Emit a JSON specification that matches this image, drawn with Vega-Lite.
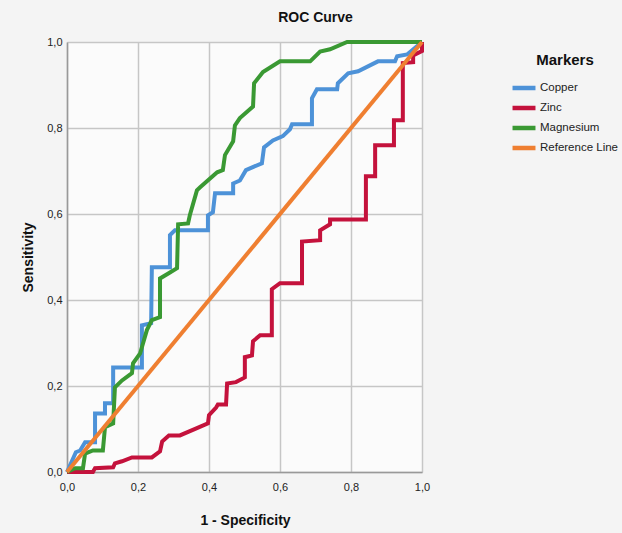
{
  "$schema": "https://vega.github.io/schema/vega-lite/v6.json",
  "width": 355,
  "height": 430,
  "autosize": "none",
  "padding": {"left": 67, "top": 42, "right": 200, "bottom": 61},
  "background": "#f4f4f4",
  "config": {
    "font": "Liberation Sans",
    "view": {"fill": "#fbfbfb", "stroke": null}
  },
  "title": {
    "text": "ROC Curve",
    "fontSize": 14,
    "fontWeight": "bold",
    "color": "#111",
    "anchor": "middle",
    "dx": 71,
    "offset": 9
  },
  "data": {
    "values": [
      {"m": "Copper", "i": 0, "x": 0, "y": 0},
      {"m": "Copper", "i": 1, "x": 0.025, "y": 0.046},
      {"m": "Copper", "i": 2, "x": 0.037, "y": 0.05},
      {"m": "Copper", "i": 3, "x": 0.051, "y": 0.069},
      {"m": "Copper", "i": 4, "x": 0.079, "y": 0.069},
      {"m": "Copper", "i": 5, "x": 0.079, "y": 0.136},
      {"m": "Copper", "i": 6, "x": 0.107, "y": 0.136},
      {"m": "Copper", "i": 7, "x": 0.107, "y": 0.16},
      {"m": "Copper", "i": 8, "x": 0.13, "y": 0.16},
      {"m": "Copper", "i": 9, "x": 0.13, "y": 0.243},
      {"m": "Copper", "i": 10, "x": 0.211, "y": 0.243},
      {"m": "Copper", "i": 11, "x": 0.211, "y": 0.341},
      {"m": "Copper", "i": 12, "x": 0.237, "y": 0.346},
      {"m": "Copper", "i": 13, "x": 0.239, "y": 0.476},
      {"m": "Copper", "i": 14, "x": 0.29, "y": 0.476},
      {"m": "Copper", "i": 15, "x": 0.29, "y": 0.551},
      {"m": "Copper", "i": 16, "x": 0.304, "y": 0.562},
      {"m": "Copper", "i": 17, "x": 0.397, "y": 0.562},
      {"m": "Copper", "i": 18, "x": 0.397, "y": 0.597},
      {"m": "Copper", "i": 19, "x": 0.411, "y": 0.604},
      {"m": "Copper", "i": 20, "x": 0.417, "y": 0.648},
      {"m": "Copper", "i": 21, "x": 0.468, "y": 0.648},
      {"m": "Copper", "i": 22, "x": 0.468, "y": 0.671},
      {"m": "Copper", "i": 23, "x": 0.487, "y": 0.678},
      {"m": "Copper", "i": 24, "x": 0.504, "y": 0.702},
      {"m": "Copper", "i": 25, "x": 0.549, "y": 0.718},
      {"m": "Copper", "i": 26, "x": 0.555, "y": 0.755},
      {"m": "Copper", "i": 27, "x": 0.58, "y": 0.771},
      {"m": "Copper", "i": 28, "x": 0.608, "y": 0.781},
      {"m": "Copper", "i": 29, "x": 0.628, "y": 0.797},
      {"m": "Copper", "i": 30, "x": 0.634, "y": 0.809},
      {"m": "Copper", "i": 31, "x": 0.69, "y": 0.809},
      {"m": "Copper", "i": 32, "x": 0.69, "y": 0.869},
      {"m": "Copper", "i": 33, "x": 0.704, "y": 0.89},
      {"m": "Copper", "i": 34, "x": 0.761, "y": 0.89},
      {"m": "Copper", "i": 35, "x": 0.763, "y": 0.904},
      {"m": "Copper", "i": 36, "x": 0.792, "y": 0.927},
      {"m": "Copper", "i": 37, "x": 0.82, "y": 0.932},
      {"m": "Copper", "i": 38, "x": 0.876, "y": 0.955},
      {"m": "Copper", "i": 39, "x": 0.924, "y": 0.955},
      {"m": "Copper", "i": 40, "x": 0.93, "y": 0.967},
      {"m": "Copper", "i": 41, "x": 0.958, "y": 0.971},
      {"m": "Copper", "i": 42, "x": 1, "y": 1},
      {"m": "Zinc", "i": 0, "x": 0, "y": 0},
      {"m": "Zinc", "i": 1, "x": 0.073, "y": 0},
      {"m": "Zinc", "i": 2, "x": 0.079, "y": 0.009},
      {"m": "Zinc", "i": 3, "x": 0.13, "y": 0.011},
      {"m": "Zinc", "i": 4, "x": 0.135, "y": 0.02},
      {"m": "Zinc", "i": 5, "x": 0.155, "y": 0.025},
      {"m": "Zinc", "i": 6, "x": 0.183, "y": 0.034},
      {"m": "Zinc", "i": 7, "x": 0.239, "y": 0.034},
      {"m": "Zinc", "i": 8, "x": 0.262, "y": 0.048},
      {"m": "Zinc", "i": 9, "x": 0.268, "y": 0.071},
      {"m": "Zinc", "i": 10, "x": 0.287, "y": 0.085},
      {"m": "Zinc", "i": 11, "x": 0.318, "y": 0.085},
      {"m": "Zinc", "i": 12, "x": 0.366, "y": 0.102},
      {"m": "Zinc", "i": 13, "x": 0.397, "y": 0.113},
      {"m": "Zinc", "i": 14, "x": 0.4, "y": 0.132},
      {"m": "Zinc", "i": 15, "x": 0.42, "y": 0.15},
      {"m": "Zinc", "i": 16, "x": 0.425, "y": 0.157},
      {"m": "Zinc", "i": 17, "x": 0.448, "y": 0.157},
      {"m": "Zinc", "i": 18, "x": 0.451, "y": 0.206},
      {"m": "Zinc", "i": 19, "x": 0.476, "y": 0.209},
      {"m": "Zinc", "i": 20, "x": 0.501, "y": 0.22},
      {"m": "Zinc", "i": 21, "x": 0.501, "y": 0.267},
      {"m": "Zinc", "i": 22, "x": 0.521, "y": 0.271},
      {"m": "Zinc", "i": 23, "x": 0.524, "y": 0.304},
      {"m": "Zinc", "i": 24, "x": 0.544, "y": 0.318},
      {"m": "Zinc", "i": 25, "x": 0.577, "y": 0.318},
      {"m": "Zinc", "i": 26, "x": 0.577, "y": 0.425},
      {"m": "Zinc", "i": 27, "x": 0.6, "y": 0.439},
      {"m": "Zinc", "i": 28, "x": 0.662, "y": 0.439},
      {"m": "Zinc", "i": 29, "x": 0.662, "y": 0.536},
      {"m": "Zinc", "i": 30, "x": 0.713, "y": 0.539},
      {"m": "Zinc", "i": 31, "x": 0.713, "y": 0.562},
      {"m": "Zinc", "i": 32, "x": 0.741, "y": 0.576},
      {"m": "Zinc", "i": 33, "x": 0.741, "y": 0.587},
      {"m": "Zinc", "i": 34, "x": 0.842, "y": 0.587},
      {"m": "Zinc", "i": 35, "x": 0.842, "y": 0.688},
      {"m": "Zinc", "i": 36, "x": 0.868, "y": 0.688},
      {"m": "Zinc", "i": 37, "x": 0.868, "y": 0.76},
      {"m": "Zinc", "i": 38, "x": 0.921, "y": 0.76},
      {"m": "Zinc", "i": 39, "x": 0.921, "y": 0.818},
      {"m": "Zinc", "i": 40, "x": 0.946, "y": 0.818},
      {"m": "Zinc", "i": 41, "x": 0.946, "y": 0.951},
      {"m": "Zinc", "i": 42, "x": 0.975, "y": 0.953},
      {"m": "Zinc", "i": 43, "x": 0.975, "y": 0.969},
      {"m": "Zinc", "i": 44, "x": 1, "y": 0.979},
      {"m": "Zinc", "i": 45, "x": 1, "y": 1},
      {"m": "Magnesium", "i": 0, "x": 0, "y": 0},
      {"m": "Magnesium", "i": 1, "x": 0.023, "y": 0.009},
      {"m": "Magnesium", "i": 2, "x": 0.045, "y": 0.009},
      {"m": "Magnesium", "i": 3, "x": 0.051, "y": 0.043},
      {"m": "Magnesium", "i": 4, "x": 0.073, "y": 0.05},
      {"m": "Magnesium", "i": 5, "x": 0.101, "y": 0.05},
      {"m": "Magnesium", "i": 6, "x": 0.107, "y": 0.104},
      {"m": "Magnesium", "i": 7, "x": 0.13, "y": 0.113},
      {"m": "Magnesium", "i": 8, "x": 0.135, "y": 0.197},
      {"m": "Magnesium", "i": 9, "x": 0.155, "y": 0.213},
      {"m": "Magnesium", "i": 10, "x": 0.183, "y": 0.23},
      {"m": "Magnesium", "i": 11, "x": 0.186, "y": 0.253},
      {"m": "Magnesium", "i": 12, "x": 0.206, "y": 0.276},
      {"m": "Magnesium", "i": 13, "x": 0.211, "y": 0.29},
      {"m": "Magnesium", "i": 14, "x": 0.225, "y": 0.33},
      {"m": "Magnesium", "i": 15, "x": 0.239, "y": 0.353},
      {"m": "Magnesium", "i": 16, "x": 0.262, "y": 0.36},
      {"m": "Magnesium", "i": 17, "x": 0.262, "y": 0.45},
      {"m": "Magnesium", "i": 18, "x": 0.29, "y": 0.464},
      {"m": "Magnesium", "i": 19, "x": 0.31, "y": 0.474},
      {"m": "Magnesium", "i": 20, "x": 0.313, "y": 0.576},
      {"m": "Magnesium", "i": 21, "x": 0.341, "y": 0.578},
      {"m": "Magnesium", "i": 22, "x": 0.346, "y": 0.597},
      {"m": "Magnesium", "i": 23, "x": 0.366, "y": 0.655},
      {"m": "Magnesium", "i": 24, "x": 0.375, "y": 0.662},
      {"m": "Magnesium", "i": 25, "x": 0.423, "y": 0.697},
      {"m": "Magnesium", "i": 26, "x": 0.439, "y": 0.702},
      {"m": "Magnesium", "i": 27, "x": 0.445, "y": 0.737},
      {"m": "Magnesium", "i": 28, "x": 0.468, "y": 0.769},
      {"m": "Magnesium", "i": 29, "x": 0.473, "y": 0.806},
      {"m": "Magnesium", "i": 30, "x": 0.487, "y": 0.823},
      {"m": "Magnesium", "i": 31, "x": 0.524, "y": 0.85},
      {"m": "Magnesium", "i": 32, "x": 0.527, "y": 0.904},
      {"m": "Magnesium", "i": 33, "x": 0.552, "y": 0.93},
      {"m": "Magnesium", "i": 34, "x": 0.6, "y": 0.955},
      {"m": "Magnesium", "i": 35, "x": 0.685, "y": 0.955},
      {"m": "Magnesium", "i": 36, "x": 0.713, "y": 0.978},
      {"m": "Magnesium", "i": 37, "x": 0.741, "y": 0.983},
      {"m": "Magnesium", "i": 38, "x": 0.789, "y": 1},
      {"m": "Magnesium", "i": 39, "x": 1, "y": 1},
      {"m": "Reference Line", "i": 0, "x": 0, "y": 0},
      {"m": "Reference Line", "i": 1, "x": 1, "y": 1}
    ]
  },
  "mark": {"type": "line", "strokeWidth": 4, "strokeJoin": "miter", "strokeCap": "butt", "clip": false},
  "encoding": {
    "x": {
      "field": "x",
      "type": "quantitative",
      "scale": {"domain": [0, 1], "nice": false, "zero": false},
      "axis": {
        "title": "1 - Specificity",
        "values": [0, 0.2, 0.4, 0.6, 0.8, 1],
        "labelExpr": "replace(format(datum.value, '.1f'), '.', ',')",
        "labelFontSize": 11,
        "labelColor": "#222",
        "labelPadding": 9,
        "labelFlush": false,
        "ticks": false,
        "domainColor": "#999",
        "domainWidth": 1.5,
        "gridColor": "#c6c6c6",
        "gridWidth": 1.5,
        "titleFontSize": 14,
        "titleFontWeight": "bold",
        "titleColor": "#111",
        "titleX": 178,
        "titleY": 48,
        "titleBaseline": "middle"
      }
    },
    "y": {
      "field": "y",
      "type": "quantitative",
      "scale": {"domain": [0, 1], "nice": false, "zero": false},
      "axis": {
        "title": "Sensitivity",
        "values": [0, 0.2, 0.4, 0.6, 0.8, 1],
        "labelExpr": "replace(format(datum.value, '.1f'), '.', ',')",
        "labelFontSize": 11,
        "labelColor": "#222",
        "labelPadding": 5,
        "labelFlush": false,
        "ticks": false,
        "domainColor": "#999",
        "domainWidth": 1.5,
        "gridColor": "#c6c6c6",
        "gridWidth": 1.5,
        "titleFontSize": 14,
        "titleFontWeight": "bold",
        "titleColor": "#111",
        "titleX": -39,
        "titleY": 215,
        "titleAngle": -90,
        "titleAlign": "center",
        "titleBaseline": "middle"
      }
    },
    "color": {
      "field": "m",
      "type": "nominal",
      "scale": {
        "domain": ["Copper", "Zinc", "Magnesium", "Reference Line"],
        "range": ["#4d92d8", "#c4123c", "#3a9933", "#ef7f31"]
      },
      "legend": {
        "title": "Markers",
        "orient": "none",
        "legendX": 446,
        "legendY": 11,
        "titleFontSize": 15,
        "titleFontWeight": "bold",
        "titleColor": "#111",
        "titleAnchor": "middle",
        "titlePadding": 9,
        "symbolType": "M-1.35,0H1.35",
        "symbolSize": 289,
        "symbolStrokeWidth": 4.5,
        "labelFontSize": 11.5,
        "labelColor": "#222",
        "labelOffset": 5,
        "rowPadding": 0
      }
    },
    "order": {"field": "i", "type": "quantitative"}
  }
}
